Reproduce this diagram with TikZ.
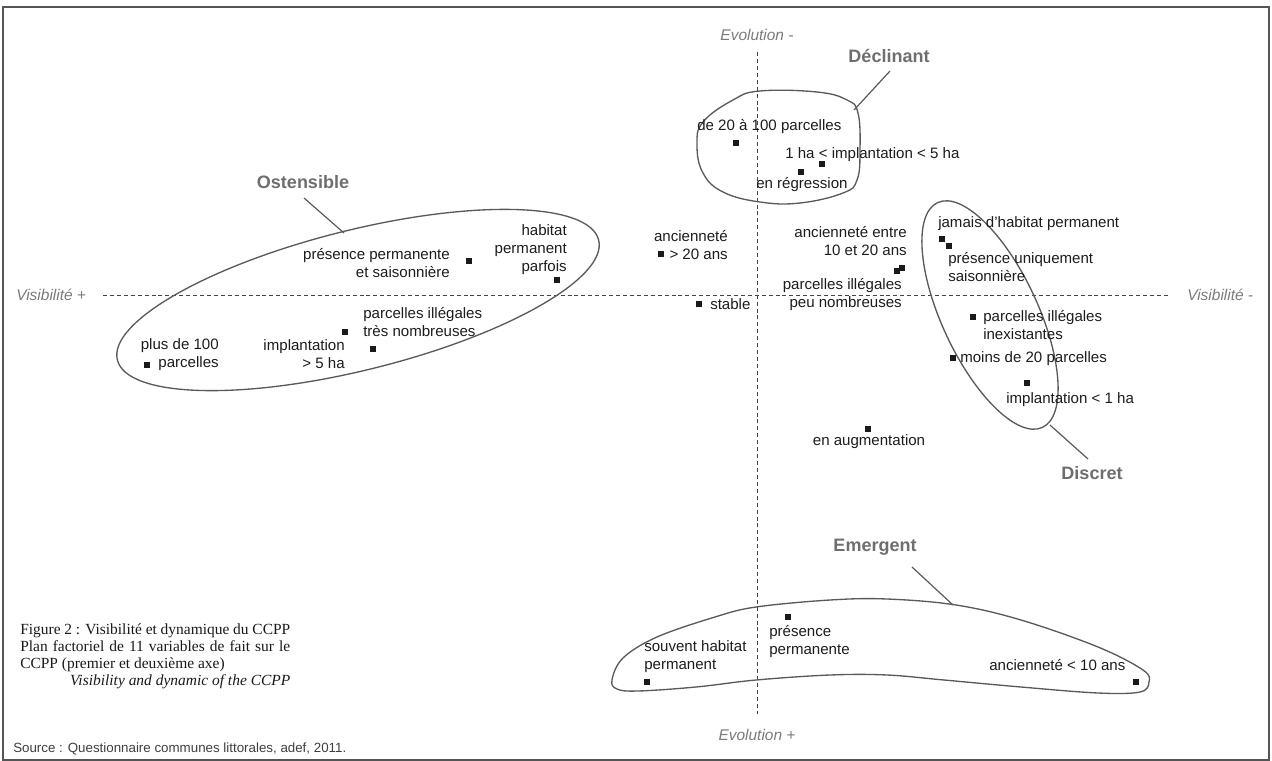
\documentclass[tikz,border=0pt]{standalone}
\usepackage{fontspec}
\setsansfont{Liberation Sans}
\newfontfamily\capfont{Liberation Serif}
\definecolor{txt}{HTML}{1C1C1C}
\definecolor{mkcol}{HTML}{1A1A1A}
\definecolor{grpcol}{HTML}{6E6E6E}
\definecolor{axcol}{HTML}{7A7A7A}
\definecolor{blobcol}{HTML}{5A5A5A}
\definecolor{axiscol}{HTML}{444444}
\definecolor{framecol}{HTML}{555555}
\begin{document}
\begin{tikzpicture}[x=0.75pt,y=-0.75pt,
  mk/.style={fill=mkcol, draw=none, minimum size=5.2pt, inner sep=0pt, outer sep=0pt},
  lbl/.style={font=\sffamily\fontsize{11.3}{13.5}\selectfont, text=txt, inner sep=0pt},
  lw/.style={lbl, anchor=north west, align=left},
  le/.style={lbl, anchor=north east, align=right},
  lc/.style={lbl, anchor=north, align=center},
  grp/.style={font=\sffamily\bfseries\fontsize{13.5}{16}\selectfont, text=grpcol, inner sep=0pt},
  axl/.style={font=\sffamily\itshape\fontsize{11.6}{14}\selectfont, text=axcol, inner sep=0pt},
  blob/.style={draw=blobcol, line width=1pt},
  lead/.style={draw=blobcol, line width=0.9pt},
  axisline/.style={draw=axiscol, line width=0.7pt, dash pattern=on 3pt off 2.2pt},
  capt/.style={font=\capfont\fontsize{11.6}{12.75}\selectfont, text=black!90, inner sep=0pt, align=left},
  src/.style={font=\sffamily\fontsize{10}{12}\selectfont, text=txt!85, inner sep=0pt}
]
\useasboundingbox (0,0) rectangle (1272,761);
\draw[framecol, line width=1.1pt] (3,7) rectangle (1269,760);

% axes
\coordinate (hA) at (103,295); \coordinate (hB) at (1170,295);
\coordinate (vA) at (757,52);  \coordinate (vB) at (757,714);
\draw[axisline] (hA) -- (hB);
\draw[axisline] (vA) -- (vB);
\node[axl, anchor=west] (visp) at (16,295) {Visibilité +};
\node[axl, anchor=west] (vism) at (1187,295) {Visibilité -};
\node[axl] (evm) at (757,35) {Evolution -};
\node[axl] (evp) at (757,735) {Evolution +};

% group shapes
\coordinate (ostc) at (358,300);
\draw[blob, rotate around={14:(ostc)}] (ostc) ellipse [x radius=248, y radius=70];
\coordinate (disc) at (990,315);
\draw[blob, rotate around={-65:(disc)}] (disc) ellipse [x radius=124, y radius=48];
\draw[blob] plot[smooth cycle, tension=0.7] coordinates {(697,145) (703,122) (733,100) (760,91) (817,92) (847,100) (858,113) (860,150) (857,180) (843,193) (800,203) (760,202) (723,192) (703,173)};
\draw[blob] plot[smooth cycle, tension=0.6] coordinates {(612,680) (623,658) (657,637) (715,617) (756,607) (830,600) (887,599) (956,605) (1021,620) (1098,647) (1143,670) (1149,682) (1140,692) (1098,693) (1021,687) (944,680) (887,675) (830,675) (756,680) (696,687) (638,691) (617,689)};

% group labels and leaders
\node[grp] (gost) at (303,182) {Ostensible};
\node[grp] (gdec) at (889,56) {Déclinant};
\node[grp] (gdis) at (1092,473) {Discret};
\node[grp] (geme) at (875,547) {Emergent};
\coordinate (ostA) at (304,198); \coordinate (ostB) at (344,233);
\coordinate (decA) at (890,71);  \coordinate (decB) at (854,110);
\coordinate (disA) at (1088,459); \coordinate (disB) at (1050,425);
\coordinate (emeA) at (912,567); \coordinate (emeB) at (953,605);
\draw[lead] (ostA) -- (ostB);
\draw[lead] (decA) -- (decB);
\draw[lead] (disA) -- (disB);
\draw[lead] (emeA) -- (emeB);

% Ostensible
\node[mk] (m1) at (557,280) {};
\node[le] (t1) at (567,224) {habitat\\permanent\\parfois};
\node[mk] (m2) at (469,261) {};
\node[le] (t2) at (450,248) {présence permanente\\et saisonnière};
\node[mk] (m3) at (345,332) {};
\node[lw] (t3) at (363,307) {parcelles illégales\\très nombreuses};
\node[mk] (m4) at (373,349) {};
\node[le] (t4) at (345,339) {implantation\\> 5 ha};
\node[mk] (m5) at (147,365) {};
\node[le] (t5) at (219,338) {plus de 100\\parcelles};

% Declinant
\node[mk] (m6) at (736,143) {};
\node[lw] (t6) at (697,119) {de 20 à 100 parcelles};
\node[mk] (m7) at (822,164) {};
\node[lw] (t7) at (785,147) {1 ha < implantation < 5 ha};
\node[mk] (m8) at (801,172) {};
\node[lw] (t8) at (756,177) {en régression};

% centre
\node[mk] (m9) at (661,254) {};
\node[le] (t9) at (728,230) {ancienneté\\> 20 ans};
\node[mk] (m10) at (699,304) {};
\node[lw] (t10) at (710,298) {stable};
\node[mk] (m11) at (902,268) {};
\node[le] (t11) at (907,226) {ancienneté entre\\10 et 20 ans};
\node[mk] (m12) at (897,271) {};
\node[le] (t12) at (902,278) {parcelles illégales\\peu nombreuses};
\node[mk] (m13) at (868,429) {};
\node[lc] (t13) at (869,434) {en augmentation};

% Discret
\node[mk] (m14) at (942,239) {};
\node[lw] (t14) at (938,216) {jamais d'habitat permanent};
\node[mk] (m15) at (949,246) {};
\node[lw] (t15) at (948,252) {présence uniquement\\saisonnière};
\node[mk] (m16) at (973,317) {};
\node[lw] (t16) at (983,310) {parcelles illégales\\inexistantes};
\node[mk] (m17) at (953,358) {};
\node[lw] (t17) at (960,351) {moins de 20 parcelles};
\node[mk] (m18) at (1027,383) {};
\node[lw] (t18) at (1006,392) {implantation < 1 ha};

% Emergent
\node[mk] (m19) at (647,682) {};
\node[lw] (t19) at (644,640) {souvent habitat\\permanent};
\node[mk] (m20) at (788,617) {};
\node[lw] (t20) at (769,625) {présence\\permanente};
\node[mk] (m21) at (1136,682) {};
\node[lw] (t21) at (989,659) {ancienneté < 10 ans};

% caption and source
\node[capt, anchor=north west] (cap) at (20,623) {\makebox[202.5pt][s]{Figure 2 : Visibilité et dynamique du CCPP}\\
\makebox[202.5pt][s]{Plan factoriel de 11 variables de fait sur le}\\
CCPP (premier et deuxième axe)\\
\makebox[202.5pt][r]{\textit{Visibility and dynamic of the CCPP}}};
\node[src, anchor=west] (source) at (13,749) {Source : Questionnaire communes littorales, adef, 2011.};
\end{tikzpicture}
\end{document}
